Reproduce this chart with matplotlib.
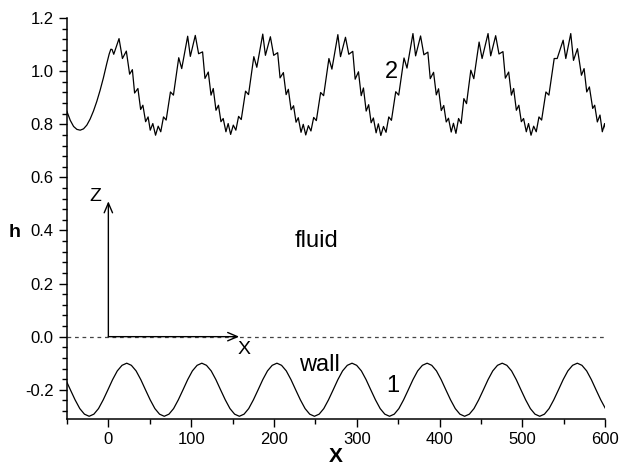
import matplotlib
matplotlib.use("Agg")
import matplotlib.pyplot as plt
from matplotlib.ticker import MultipleLocator

plt.rcParams["font.family"] = ["Liberation Sans", "DejaVu Sans"]

# ---- curve 1: wall profile ----
wall_x = [
    -51.5, -45.9, -40.2, -34.5, -28.9,
    -23.2, -17.5, -11.9, -6.2, -0.5, 5.1, 10.8, 16.5, 22.2, 27.8, 33.5, 39.2, 44.8, 50.5, 56.2, 61.8,
    67.5, 73.2, 78.8, 84.5, 90.2, 95.8, 101.5, 107.2, 112.9, 118.5, 124.2, 129.9, 135.5, 141.2, 146.9, 152.5,
    158.2, 163.9, 169.5, 175.2, 180.9, 186.5, 192.2, 197.9, 203.6, 209.2, 214.9, 220.6, 226.2, 231.9, 237.6, 243.2,
    248.9, 254.6, 260.2, 265.9, 271.6, 277.2, 282.9, 288.6, 294.3, 299.9, 305.6, 311.3, 316.9, 322.6, 328.3, 333.9,
    339.6, 345.3, 350.9, 356.6, 362.3, 367.9, 373.6, 379.3, 385.0, 390.6, 396.3, 402.0, 407.6, 413.3, 419.0, 424.6,
    430.3, 436.0, 441.6, 447.3, 453.0, 458.6, 464.3, 470.0, 475.7, 481.3, 487.0, 492.7, 498.3, 504.0, 509.7, 515.3,
    521.0, 526.7, 532.3, 538.0, 543.7, 549.3, 555.0, 560.7, 566.4, 572.0, 577.7, 583.4, 589.0, 594.7, 600.4, 606.0,
]
wall_h = [
    -0.162, -0.200, -0.238, -0.271, -0.292,
    -0.300, -0.292, -0.271, -0.238, -0.200, -0.162, -0.129, -0.108, -0.100, -0.108, -0.129, -0.162, -0.200, -0.238, -0.271, -0.292,
    -0.300, -0.292, -0.271, -0.238, -0.200, -0.162, -0.129, -0.108, -0.100, -0.108, -0.129, -0.162, -0.200, -0.238, -0.271, -0.292,
    -0.300, -0.292, -0.271, -0.238, -0.200, -0.162, -0.129, -0.108, -0.100, -0.108, -0.129, -0.162, -0.200, -0.238, -0.271, -0.292,
    -0.300, -0.292, -0.271, -0.238, -0.200, -0.162, -0.129, -0.108, -0.100, -0.108, -0.129, -0.162, -0.200, -0.238, -0.271, -0.292,
    -0.300, -0.292, -0.271, -0.238, -0.200, -0.162, -0.129, -0.108, -0.100, -0.108, -0.129, -0.162, -0.200, -0.238, -0.271, -0.292,
    -0.300, -0.292, -0.271, -0.238, -0.200, -0.162, -0.129, -0.108, -0.100, -0.108, -0.129, -0.162, -0.200, -0.238, -0.271, -0.292,
    -0.300, -0.292, -0.271, -0.238, -0.200, -0.162, -0.129, -0.108, -0.100, -0.108, -0.129, -0.162, -0.200, -0.238, -0.271, -0.292,
]

# ---- curve 2: film surface (ripple extrema) ----
film_x = [
    -50.0, -46.0, -42.0, -38.0, -34.0, -30.0, -26.0, -22.0, -18.0, -14.0, -10.0, -6.0, -2.0, 1.0, 3.0, 4.5,
    6.5, 12.9, 17.0, 21.7, 25.7, 29.0, 31.7, 35.7, 39.0, 41.7, 45.0, 48.0, 50.6, 53.7,
    57.0, 60.2, 63.3, 66.6, 69.8, 75.0, 78.6, 85.0, 88.6, 95.8, 99.0, 105.0,
    109.0, 113.8, 116.7, 120.7, 124.0, 126.7, 130.0, 133.0, 136.0, 138.7, 142.0, 144.7,
    147.7, 150.9, 154.0, 157.3, 160.5, 165.7, 169.3, 175.7, 179.3, 186.5, 189.7, 195.7,
    199.7, 204.5, 207.4, 211.4, 214.7, 217.4, 220.7, 223.7, 226.7, 229.4, 232.7, 235.4,
    238.4, 241.6, 244.7, 248.0, 251.2, 256.4, 260.0, 266.4, 270.0, 277.2, 280.4, 286.4,
    290.4, 295.2, 298.1, 302.1, 305.4, 308.1, 311.4, 314.4, 317.4, 320.1, 323.4, 326.1,
    329.1, 332.3, 335.4, 338.7, 341.9, 347.1, 350.7, 357.1, 360.7, 367.9, 371.1, 377.1,
    381.1, 385.9, 388.8, 392.8, 396.1, 398.8, 402.1, 405.1, 408.1, 410.8, 414.1, 416.8,
    419.8, 423.0, 426.1, 429.4, 432.6, 437.8, 441.4, 447.8, 451.4, 458.6, 461.8, 467.8,
    471.8, 476.6, 479.5, 483.5, 486.8, 489.5, 492.8, 495.8, 498.8, 501.5, 504.8, 507.5,
    510.5, 513.7, 516.8, 520.1, 523.3, 528.5, 532.1, 538.5, 542.1, 549.3, 552.5, 558.5,
    561.8, 566.6, 571.4, 574.6, 577.8, 581.0, 585.0, 587.4, 590.6, 593.8, 596.6, 599.4, 601.8,
]
film_h = [
    0.848, 0.815, 0.792, 0.781, 0.778, 0.783, 0.797, 0.820, 0.850, 0.886, 0.928, 0.975, 1.028, 1.065, 1.083, 1.082,
    1.064, 1.123, 1.048, 1.076, 0.989, 1.006, 0.918, 0.935, 0.856, 0.872, 0.810, 0.828, 0.778, 0.803,
    0.759, 0.793, 0.772, 0.828, 0.816, 0.922, 0.910, 1.051, 1.010, 1.132, 1.056, 1.135,
    1.066, 1.073, 0.973, 0.997, 0.910, 0.935, 0.853, 0.872, 0.810, 0.822, 0.772, 0.803,
    0.762, 0.797, 0.778, 0.830, 0.818, 0.925, 0.912, 1.055, 1.015, 1.140, 1.060, 1.130,
    1.060, 1.070, 0.975, 0.995, 0.912, 0.932, 0.855, 0.870, 0.808, 0.825, 0.770, 0.800,
    0.760, 0.795, 0.775, 0.826, 0.814, 0.920, 0.908, 1.048, 1.008, 1.138, 1.055, 1.128,
    1.064, 1.075, 0.970, 0.998, 0.908, 0.937, 0.850, 0.874, 0.806, 0.824, 0.768, 0.802,
    0.758, 0.792, 0.770, 0.828, 0.815, 0.923, 0.910, 1.050, 1.012, 1.142, 1.058, 1.133,
    1.062, 1.072, 0.972, 0.996, 0.911, 0.934, 0.852, 0.871, 0.809, 0.823, 0.771, 0.804,
    0.766, 0.822, 0.803, 0.897, 0.878, 1.004, 0.972, 1.110, 1.048, 1.142, 1.058, 1.134,
    1.065, 1.074, 0.974, 0.997, 0.910, 0.935, 0.853, 0.872, 0.810, 0.822, 0.772, 0.803,
    0.759, 0.793, 0.772, 0.828, 0.816, 0.922, 0.910, 1.048, 1.048, 1.117, 1.048, 1.142,
    1.041, 1.085, 0.985, 1.010, 0.922, 0.941, 0.860, 0.872, 0.809, 0.835, 0.772, 0.803, 0.759,
]

x_ticks = [0, 100, 200, 300, 400, 500, 600]
y_ticks = [-0.2, 0.0, 0.2, 0.4, 0.6, 0.8, 1.0, 1.2]


fig = plt.figure(figsize=(6.2, 4.66), dpi=100)
ax = fig.add_axes([0.108, 0.101, 0.868, 0.860])

ax.plot(wall_x, wall_h, color="black", lw=0.9)
ax.plot(film_x, film_h, color="black", lw=0.9)
ax.axhline(0.0, color="#444444", lw=0.9, ls=(0, (3, 3)))

# coordinate arrows
ax.annotate("", xy=(0, 0.51), xytext=(0, 0.0),
            arrowprops=dict(arrowstyle="->,head_length=0.7,head_width=0.3",
                            color="black", lw=1.0, shrinkA=0, shrinkB=0))
ax.annotate("", xy=(158, 0.0), xytext=(0, 0.0),
            arrowprops=dict(arrowstyle="->,head_length=0.7,head_width=0.3",
                            color="black", lw=1.0, shrinkA=0, shrinkB=0))
ax.text(-16, 0.528, "Z", fontsize=14, ha="center", va="center")
ax.text(164, -0.049, "X", fontsize=14, ha="center", va="center")

ax.text(252, 0.361, "fluid", fontsize=17, ha="center", va="center")
ax.text(255, -0.105, "wall", fontsize=17, ha="center", va="center")
ax.text(342, 0.998, "2", fontsize=17, ha="center", va="center")
ax.text(343, -0.185, "1", fontsize=17, ha="center", va="center")

ax.set_xlim(-50, 600)
ax.set_ylim(-0.31, 1.2)
ax.set_xticks(x_ticks)
ax.set_yticks(y_ticks)
ax.set_yticklabels([f"{v:.1f}" for v in y_ticks])
ax.xaxis.set_minor_locator(MultipleLocator(50))
ax.yaxis.set_minor_locator(MultipleLocator(0.04))
ax.tick_params(which="major", length=6, width=1.0, labelsize=12, direction="out")
ax.tick_params(which="minor", length=3.5, width=1.0, direction="out")
ax.spines["top"].set_visible(False)
ax.spines["right"].set_visible(False)
ax.spines["left"].set_linewidth(1.1)
ax.spines["bottom"].set_linewidth(1.1)

ax.set_xlabel("X", fontsize=15, fontweight="bold", labelpad=0)
ax.set_ylabel("h", fontsize=14, fontweight="bold", rotation=0, va="center")
ax.yaxis.set_label_coords(-0.098, 0.464)

fig.savefig("out.png", dpi=100)
